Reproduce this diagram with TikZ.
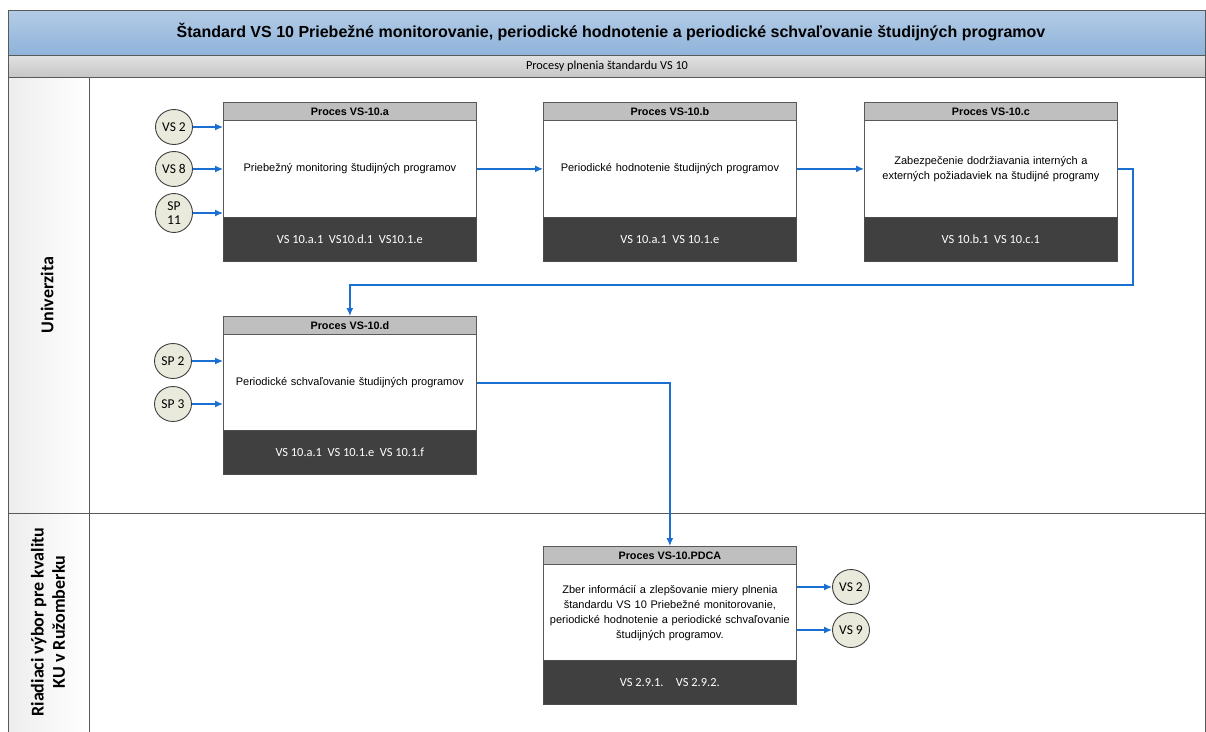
\documentclass[tikz,border=0pt]{standalone}
\usepackage{fontspec}
\setmainfont{Liberation Sans}
\newfontfamily\calfont{Carlito}
\usetikzlibrary{arrows.meta,positioning,calc,shapes.geometric}
\definecolor{titletop}{HTML}{B3CCE6}
\definecolor{titlebot}{HTML}{8FB3DA}
\definecolor{subtop}{HTML}{E2E2E2}
\definecolor{subbot}{HTML}{C6C6C6}
\definecolor{hdrgray}{HTML}{BFBFBF}
\definecolor{ftrdark}{HTML}{404040}
\definecolor{circfill}{HTML}{E9EADB}
\definecolor{flowblue}{HTML}{1A6FD0}
\definecolor{lanegray}{HTML}{595959}
\tikzset{
  x=1pt, y=-1pt,
  hdrbox/.style={draw=gray!70!black, line width=0.8pt, fill=hdrgray, minimum width=253pt, minimum height=18pt, inner sep=0pt, font=\fontsize{10.8}{12}\selectfont\bfseries, anchor=north west},
  bodybox/.style={draw=gray!70!black, line width=0.8pt, fill=white, minimum width=253pt, minimum height=97pt, inner sep=0pt, text width=248pt, align=center, font=\fontsize{11}{14.8}\selectfont, anchor=north west},
  ftrbox/.style={fill=ftrdark, draw=gray!60!black, line width=0.6pt, minimum width=253pt, minimum height=44pt, inner sep=0pt, text=white, font=\calfont\fontsize{12.4}{14}\selectfont, anchor=north west},
  refcirc/.style={ellipse, draw=ftrdark, line width=0.9pt, fill=circfill, minimum width=37pt, minimum height=35pt, inner sep=0pt, align=center, font=\calfont\fontsize{13.5}{15}\selectfont},
  flow/.style={draw=flowblue, line width=1.3pt, -{Latex[length=8pt,width=7pt]}},
  lanetext/.style={rotate=90, align=center, font=\calfont\fontsize{18}{21}\selectfont\bfseries},
}
\begin{document}
\begin{tikzpicture}
\clip (0,0) rectangle (1206,731);
\fill[white] (0,0) rectangle (1206,731);
% title band
\shade[top color=titletop, bottom color=titlebot] (8,10) rectangle (1205,55);
\shade[top color=subtop, bottom color=subbot] (8,55) rectangle (1205,77);
\shade[left color=gray!14, right color=white] (8,77) rectangle (89,740);
\draw[lanegray, line width=1pt] (8,10) rectangle (1205,740);
\draw[lanegray, line width=1pt] (8,55) -- (1205,55);
\draw[lanegray, line width=1pt] (8,77) -- (1205,77);
\draw[lanegray, line width=1pt] (8,513) -- (1205,513);
\draw[lanegray, line width=1pt] (89,77) -- (89,740);
\node[font=\fontsize{16}{18}\selectfont\bfseries] (title) at (611,32) {Štandard VS 10 Priebežné monitorovanie, periodické hodnotenie a periodické schvaľovanie študijných programov};
\node[font=\calfont\fontsize{12.3}{13}\selectfont] (subtitle) at (607,66.5) {Procesy plnenia štandardu VS 10};
\node[lanetext] (lane1) at (47,295) {Univerzita};
\node[lanetext] (lane2) at (48,622) {Riadiaci výbor pre kvalitu\\KU v Ružomberku};

% Box A
\node[hdrbox] (hA) at (223,102) {Proces VS-10.a};
\node[bodybox] (bA) at (223,120) {Priebežný monitoring študijných programov};
\node[ftrbox] (fA) at (223,217) {VS 10.a.1\ \ VS10.d.1\ \ VS10.1.e};
% Box B
\node[hdrbox] (hB) at (543,102) {Proces VS-10.b};
\node[bodybox] (bB) at (543,120) {Periodické hodnotenie študijných programov};
\node[ftrbox] (fB) at (543,217) {VS 10.a.1\ \ VS 10.1.e};
% Box C
\node[hdrbox] (hC) at (864,102) {Proces VS-10.c};
\node[bodybox] (bC) at (864,120) {Zabezpečenie dodržiavania interných a\\ externých požiadaviek na študijné programy};
\node[ftrbox] (fC) at (864,217) {VS 10.b.1\ \ VS 10.c.1};
% Box D
\node[hdrbox] (hD) at (223,316) {Proces VS-10.d};
\node[bodybox] (bD) at (223,334) {Periodické schvaľovanie študijných programov};
\node[ftrbox] (fD) at (223,430) {VS 10.a.1\ \ VS 10.1.e\ \ VS 10.1.f};
% Box PDCA
\node[hdrbox] (hP) at (543,546) {Proces VS-10.PDCA};
\node[bodybox] (bP) at (543,564) {Zber informácií a zlepšovanie miery plnenia\\ štandardu VS 10 Priebežné monitorovanie,\\ periodické hodnotenie a periodické schvaľovanie\\ študijných programov.};
\node[ftrbox] (fP) at (543,660) {VS 2.9.1.\quad VS 2.9.2.};

% reference circles
\node[refcirc] (cA1) at (174,127) {VS 2};
\node[refcirc] (cA2) at (174,169) {VS 8};
\node[refcirc, minimum height=39pt, font=\calfont\fontsize{13.5}{14}\selectfont] (cA3) at (174,213) {SP\\11};
\node[refcirc] (cD1) at (173,361) {SP 2};
\node[refcirc] (cD2) at (173,404) {SP 3};
\node[refcirc] (cP1) at (851,587) {VS 2};
\node[refcirc] (cP2) at (851,630) {VS 9};

% flows
\draw[flow] (cA1) -- (cA1 -| bA.west);
\draw[flow] (cA2) -- (cA2 -| bA.west);
\draw[flow] (cA3.east) -- (cA3.east -| bA.west);
\draw[flow] (cD1) -- (cD1 -| bD.west);
\draw[flow] (cD2) -- (cD2 -| bD.west);
\draw[flow] (bA.east) -- (bB.west);
\draw[flow] (bB.east) -- (bC.west);
\coordinate (cturn) at (1133,285);
\draw[flow] (bC.east) -| (cturn) -| (hD.north);
\draw[flow] (bD.east) -| (hP.north);
\draw[flow] (cP1 -| bP.east) -- (cP1.west);
\draw[flow] (cP2 -| bP.east) -- (cP2.west);
\end{tikzpicture}
\end{document}
